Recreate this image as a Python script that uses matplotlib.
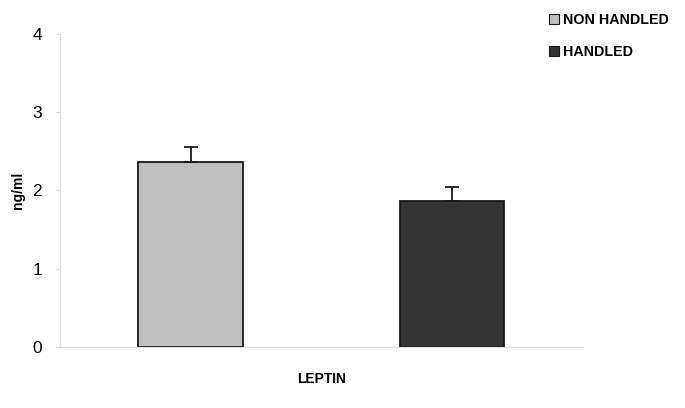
import matplotlib.pyplot as plt
from matplotlib.patches import Patch

# data
groups = ['NON HANDLED', 'HANDLED']
means = [2.36, 1.86]
errs = [0.20, 0.19]
bar_colors = ['#c0c0c0', '#333333']
yticks = [0, 1, 2, 3, 4]

plt.rcParams['font.family'] = ['Liberation Sans', 'DejaVu Sans']

fig = plt.figure(figsize=(6.85, 4.08), dpi=100)
ax = fig.add_axes([0.0876, 0.1495, 0.7634, 0.7672])

x = list(range(len(groups)))
ax.bar(x, means, width=0.4, color=bar_colors, edgecolor='#1a1a1a', linewidth=1.3, zorder=2)
ax.errorbar(x, means, yerr=[[0, 0], errs], fmt='none', ecolor='#1a1a1a',
            elinewidth=1.3, capsize=5, capthick=1.3, zorder=3)

ax.set_xlim(-0.5, 1.5)
ax.set_ylim(0, 4)
ax.set_yticks(yticks)
ax.set_xticks([])
ax.tick_params(axis='y', length=3, color='#dddddd', labelsize=12.5, pad=10)

for side in ['top', 'right']:
    ax.spines[side].set_visible(False)
for side in ['left', 'bottom']:
    ax.spines[side].set_color('#e0e0e0')
    ax.spines[side].set_linewidth(0.8)

ax.set_ylabel('ng/ml', fontsize=10, fontweight='bold', labelpad=5)
ax.set_xlabel('LEPTIN', fontsize=10, fontweight='bold', labelpad=18)

handles = [Patch(facecolor=c, edgecolor='#1a1a1a', linewidth=0.8) for c in bar_colors]
leg = fig.legend(handles, groups, loc='upper left', bbox_to_anchor=(0.782, 1.0),
                 frameon=False, handlelength=0.7, handleheight=0.7, handletextpad=0.3,
                 labelspacing=1.25, prop={'weight': 'bold', 'size': 10.3})

fig.savefig('out.png', dpi=100)
